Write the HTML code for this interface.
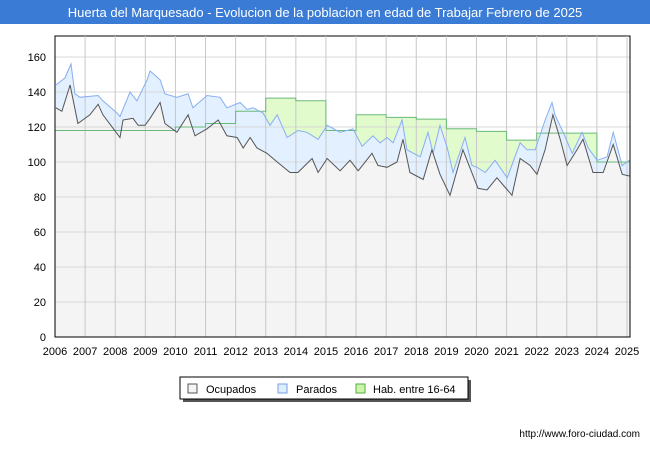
<!DOCTYPE html>
<html><head><meta charset="utf-8"><style>
body{margin:0;width:650px;height:450px;background:#fff;font-family:"Liberation Sans",sans-serif;overflow:hidden}
</style></head><body>
<svg width="650" height="450" xmlns="http://www.w3.org/2000/svg">
<rect x="0" y="0" width="650" height="450" fill="#fff"/>
<rect x="0" y="0" width="650" height="24" fill="#3a7bd5"/>
<text x="325" y="17" text-anchor="middle" font-size="13" fill="#fff">Huerta del Marquesado - Evolucion de la poblacion en edad de Trabajar Febrero de 2025</text>
<rect x="55" y="36" width="575" height="301" fill="#fff" stroke="#000" stroke-width="1"/>
<g id="fills"></g>
<g id="grid"></g>
<g id="series"></g>
<g id="axes"></g>
<g>
<rect x="183" y="380" width="288" height="22" fill="#555"/>
<rect x="180" y="377" width="288" height="22" fill="#fff" stroke="#000"/>
<rect x="188" y="384" width="9" height="9" fill="#f4f4f4" stroke="#555"/>
<text x="206" y="393" font-size="11" fill="#000">Ocupados</text>
<rect x="278" y="384" width="9" height="9" fill="#ddeeff" stroke="#7a9fe0"/>
<text x="296" y="393" font-size="11" fill="#000">Parados</text>
<rect x="356" y="384" width="9" height="9" fill="#ccf5aa" stroke="#55aa44"/>
<text x="373" y="393" font-size="11" fill="#000">Hab. entre 16-64</text>
</g>
<text x="640" y="437" text-anchor="end" font-size="10" fill="#000">http://www.foro-ciudad.com</text>
</svg>
<script>
const yearTicks=[2006,2007,2008,2009,2010,2011,2012,2013,2014,2015,2016,2017,2018,2019,2020,2021,2022,2023,2024,2025];
const valueTicks=[0,20,40,60,80,100,120,140,160];
const paradosDates=[2006.03,2006.33,2006.53,2006.66,2006.83,2007.43,2007.59,2008.06,2008.16,2008.49,2008.72,2009.06,2009.16,2009.49,2009.65,2010.05,2010.42,2010.58,2011.05,2011.48,2011.71,2012.15,2012.38,2012.58,2012.91,2013.14,2013.38,2013.71,2014.07,2014.37,2014.74,2015.04,2015.47,2015.90,2016.20,2016.56,2016.80,2017.03,2017.23,2017.53,2017.69,2018.13,2018.39,2018.56,2018.79,2019.03,2019.22,2019.62,2019.85,2020.02,2020.29,2020.62,2021.02,2021.45,2021.68,2021.95,2022.28,2022.51,2022.61,2022.88,2023.18,2023.51,2023.71,2024.01,2024.34,2024.54,2024.84,2025.08];
const paradosValues=[144,148,156,139,137,138,135,128,126,140,135,147,152,147,139,137,139,131,138,137,131,134,130,131,128,121,127,114,118,117,113,121,117,119,109,115,111,114,111,124,107,103,117,105,121,108,94,114,98,97,94,101,91,111,107,107,124,134,127,117,105,117,108,101,103,117,98,101];
const ocupadosDates=[2006.03,2006.23,2006.50,2006.76,2007.16,2007.43,2007.59,2008.16,2008.26,2008.59,2008.76,2008.99,2009.16,2009.49,2009.65,2010.05,2010.42,2010.65,2011.05,2011.42,2011.71,2012.05,2012.25,2012.48,2012.71,2013.04,2013.38,2013.81,2014.07,2014.54,2014.74,2015.04,2015.47,2015.80,2016.07,2016.53,2016.73,2017.03,2017.36,2017.56,2017.79,2018.23,2018.52,2018.79,2019.12,2019.55,2020.05,2020.35,2020.68,2021.18,2021.45,2021.78,2022.01,2022.28,2022.54,2022.78,2023.01,2023.34,2023.54,2023.87,2024.21,2024.54,2024.84,2025.08];
const ocupadosValues=[131,129,144,122,127,133,127,114,124,125,121,121,125,134,122,117,127,115,119,124,115,114,108,114,108,105,100,94,94,102,94,102,95,101,95,105,98,97,100,113,94,90,107,93,81,107,85,84,91,81,102,98,93,107,127,113,98,107,113,94,94,110,93,92];
const habYears=[2006,2007,2008,2009,2010,2011,2012,2013,2014,2015,2016,2017,2018,2019,2020,2021,2022,2023,2024];
const habValues=[118,118,118,118,120,122,129,136.5,135,118,127,125.5,124.5,119,117.5,112.5,116.5,116.5,100];

const X0=55,X1=627,Y0=337,PX=1.75;
const xs=t=>X0+(t-2006)*(X1-X0)/19;
const ys=v=>Y0-v*PX;
const NS='http://www.w3.org/2000/svg';
function mk(tag,attrs,parent){const e=document.createElementNS(NS,tag);for(const k in attrs)e.setAttribute(k,attrs[k]);parent.appendChild(e);return e;}
const fills=document.getElementById('fills'),grid=document.getElementById('grid'),ser=document.getElementById('series'),axes=document.getElementById('axes');
valueTicks.forEach(v=>{
 const l=mk('line',{x1:55,x2:630,y1:ys(v),y2:ys(v),stroke:'#d8d8d8','stroke-width':1},grid);
 
 
 const t=mk('text',{x:46,y:ys(v)+4,'text-anchor':'end','font-size':11,fill:'#000'},axes);
 t.textContent=v;
 
 
});
yearTicks.forEach(y=>{
 const l=mk('line',{x1:xs(y),x2:xs(y),y1:36,y2:337,stroke:'#c8c8c8','stroke-width':1},grid);
 
 
 const t=mk('text',{x:xs(y),y:355,'text-anchor':'middle','font-size':11,fill:'#000'},axes);
 t.textContent=y;
 
 
});
let hp=[];
habYears.forEach((y,i)=>{const x1=xs(y),x2=xs(i<habYears.length-1?habYears[i+1]:2025.08);hp.push([x1,ys(habValues[i])],[x2,ys(habValues[i])]);});
function area(pts,fill,stroke,name){
 const d='M'+pts[0][0]+','+Y0+' '+pts.map(p=>'L'+p[0].toFixed(1)+','+p[1].toFixed(1)).join(' ')+' L'+pts[pts.length-1][0]+','+Y0+'Z';
 const a=mk('path',{d:d,fill:fill,stroke:'none'},fills);
 
 
 const l=mk('path',{d:'M'+pts.map(p=>p[0].toFixed(1)+','+p[1].toFixed(1)).join(' L'),fill:'none',stroke:stroke,'stroke-width':1},ser);
 
 
}
area(hp,'#e2fbcc','#6aba7a','hab');
area(paradosDates.map((d,i)=>[xs(d),ys(paradosValues[i])]),'#e2f0ff','#88aef0','parados');
area(ocupadosDates.map((d,i)=>[xs(d),ys(ocupadosValues[i])]),'#f4f4f4','#555','ocupados');
const ax=mk('line',{x1:55,x2:55,y1:36,y2:337,stroke:'#000'},axes);


const bx=mk('line',{x1:55,x2:630,y1:337,y2:337,stroke:'#000'},axes);


const rx=mk('line',{x1:630,x2:630,y1:36,y2:337,stroke:'#000'},axes);


</script>
</body></html>
